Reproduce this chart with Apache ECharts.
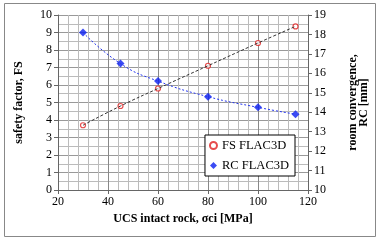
<!DOCTYPE html>
<html>
<head>
<meta charset="utf-8">
<script src="https://cdn.jsdelivr.net/npm/echarts@6/dist/echarts.min.js"></script>
<style>
  html, body { margin: 0; padding: 0; background: #fff; }
  #chart { width: 381px; height: 242px; }
</style>
</head>
<body>
<div id="chart"></div>
<script>
  var ucs = [30, 45, 60, 80, 100, 115];
  var fsValues = [3.7, 4.8, 5.8, 7.1, 8.4, 9.35];
  var rcValues = [18.1, 16.5, 15.6, 14.8, 14.25, 13.9];

  function pairs(xs, ys) {
    return xs.map(function (x, i) { return [x, ys[i]]; });
  }

  var font = 'Liberation Serif';
  var chart = echarts.init(document.getElementById('chart'));
  chart.setOption({
    animation: false,
    textStyle: { fontFamily: font },
    graphic: [{
      type: 'rect', shape: { x: 4.5, y: 3.5, width: 371, height: 233 },
      style: { fill: 'none', stroke: '#888', lineWidth: 1 }, silent: true
    }],
    grid: { left: 58, right: 73, top: 15, bottom: 52 },
    legend: {
      right: 86, top: 135, orient: 'vertical',
      backgroundColor: '#fff', borderColor: '#000', borderWidth: 1,
      padding: [4, 6, 4, 4], itemGap: 7, itemWidth: 7, itemHeight: 7,
      textStyle: { fontFamily: font, fontSize: 12.5, color: '#000' },
      data: ['FS FLAC3D', 'RC FLAC3D']
    },
    xAxis: {
      type: 'value', min: 20, max: 120, interval: 20,
      name: 'UCS intact rock, σci [MPa]', nameLocation: 'middle', nameGap: 22,
      nameTextStyle: { fontFamily: font, fontWeight: 'bold', fontSize: 12, color: '#000' },
      axisLine: { lineStyle: { color: '#666' } },
      axisTick: { show: true, length: 4, lineStyle: { color: '#666' } },
      axisLabel: { color: '#000', fontSize: 12, margin: 6 },
      splitLine: { lineStyle: { color: '#888' } },
      minorTick: { show: false, splitNumber: 5 },
      minorSplitLine: { show: true, lineStyle: { color: '#bbb' } }
    },
    yAxis: [{
      type: 'value', min: 0, max: 10, interval: 1,
      name: 'safety factor, FS', nameLocation: 'middle', nameGap: 33,
      nameTextStyle: { fontFamily: font, fontWeight: 'bold', fontSize: 12, color: '#000' },
      axisLine: { show: true, lineStyle: { color: '#666' } },
      axisTick: { show: true, length: 4, lineStyle: { color: '#666' } },
      axisLabel: { color: '#000', fontSize: 12, margin: 6 },
      splitLine: { lineStyle: { color: '#999' } },
      minorTick: { show: false, splitNumber: 2 },
      minorSplitLine: { show: true, lineStyle: { color: '#bbb' } }
    }, {
      type: 'value', min: 10, max: 19, interval: 1, position: 'right',
      name: 'room convergence,\nRC [mm]', nameLocation: 'middle', nameGap: 39, nameRotate: 90,
      nameTextStyle: { fontFamily: font, fontWeight: 'bold', fontSize: 12, color: '#000', lineHeight: 11 },
      axisLine: { show: true, lineStyle: { color: '#666' } },
      axisTick: { show: true, length: 4, lineStyle: { color: '#666' } },
      axisLabel: { color: '#000', fontSize: 12, margin: 6 },
      splitLine: { show: false }
    }],
    series: [{
      name: 'FS trend', type: 'line', data: pairs(ucs, fsValues), yAxisIndex: 0,
      showSymbol: false, smooth: true, silent: true,
      lineStyle: { color: '#333', width: 1, type: [3, 2] }
    }, {
      name: 'RC trend', type: 'line', data: pairs(ucs, rcValues), yAxisIndex: 1,
      showSymbol: false, smooth: true, silent: true,
      lineStyle: { color: '#2233ee', width: 1, type: [2, 2] }
    }, {
      name: 'FS FLAC3D', type: 'scatter', data: pairs(ucs, fsValues), yAxisIndex: 0,
      symbol: 'circle', symbolSize: 5,
      itemStyle: { color: '#fff', borderColor: '#e02020', borderWidth: 1.2 }
    }, {
      name: 'RC FLAC3D', type: 'scatter', data: pairs(ucs, rcValues), yAxisIndex: 1,
      symbol: 'diamond', symbolSize: 8,
      itemStyle: { color: '#0a1ef0' }
    }]
  });
</script>
</body>
</html>
